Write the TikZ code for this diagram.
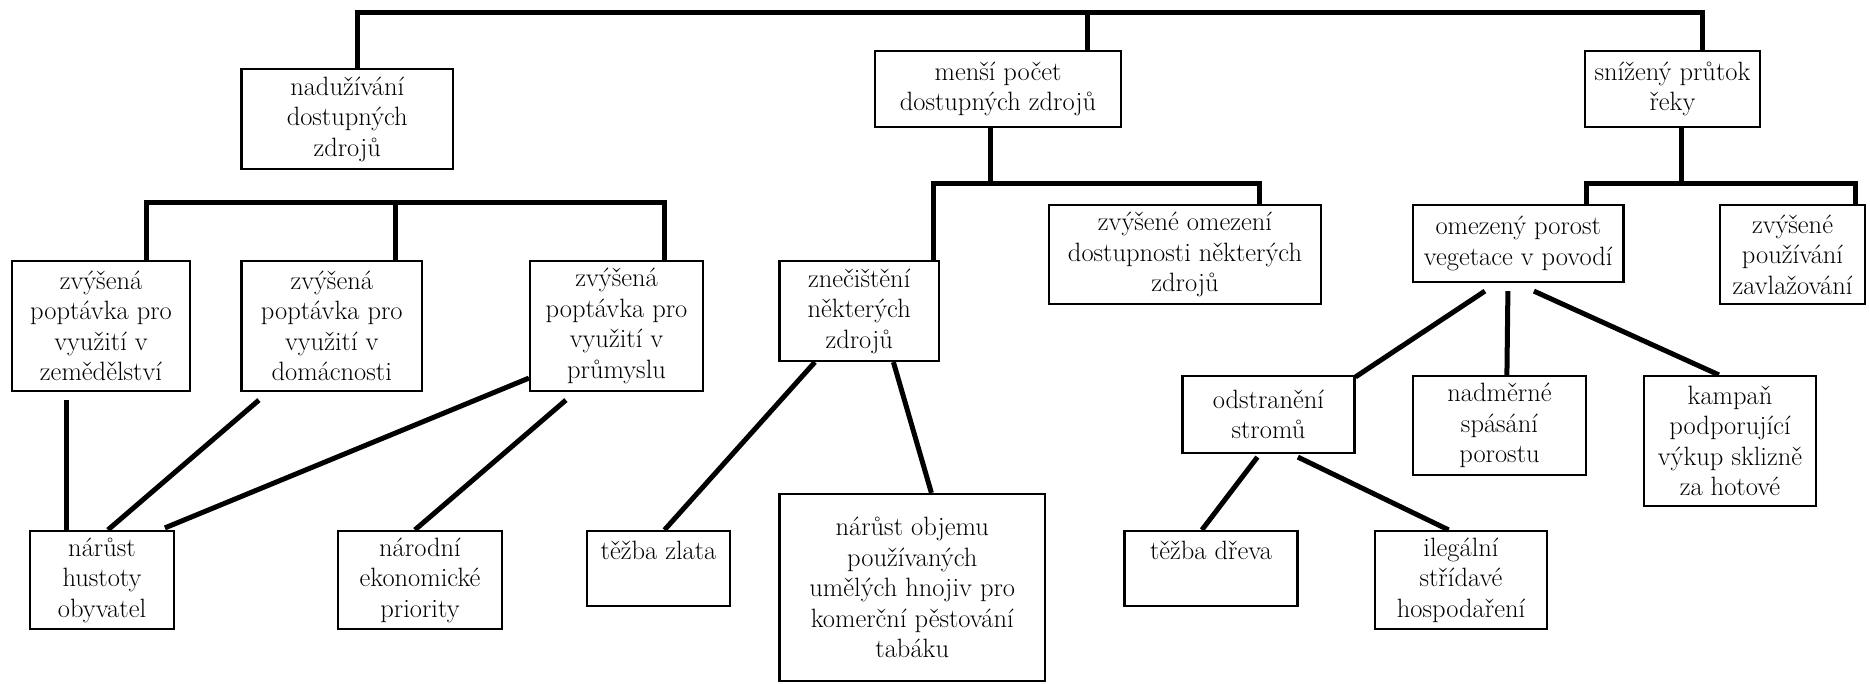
\documentclass[tikz,border=0pt]{standalone}
\usepackage{fontspec}
\setmainfont{Latin Modern Roman}
\usetikzlibrary{calc}
\begin{document}
\begin{tikzpicture}[x=1pt,y=-1pt,
  box/.style={draw,line width=2.2pt,inner sep=0pt,align=center,
    font=\fontsize{26.5}{30.5}\selectfont},
  topline/.style={text height=28pt,text depth=47pt},
  conn/.style={line width=5pt,line cap=butt,line join=miter}]
\fill[white] (0,0) rectangle (1870,683);
\useasboundingbox (0,0) rectangle (1870,683);

% first level
\node[box,minimum width=211.5,minimum height=100] (nad) at (347.25,119) {nadužívání\\dostupných\\zdrojů};
\node[box,minimum width=246,minimum height=76] (men) at (998,89) {menší počet\\dostupných zdrojů};
\node[box,minimum width=175,minimum height=76] (sni) at (1672.5,89) {snížený průtok\\řeky};

% second level
\node[box,minimum width=178,minimum height=130] (zem) at (101,326) {zvýšená\\poptávka pro\\využití v\\zemědělství};
\node[box,minimum width=180.5,minimum height=130] (dom) at (331.75,326) {zvýšená\\poptávka pro\\využití v\\domácnosti};
\node[box,minimum width=173,minimum height=130] (pru) at (616.5,326) {zvýšená\\poptávka pro\\využití v\\průmyslu};
\node[box,minimum width=159.5,minimum height=100] (zne) at (859.25,311) {znečištění\\některých\\zdrojů};
\node[box,minimum width=272,minimum height=99] (ome) at (1185,254.5) {zvýšené omezení\\dostupnosti některých\\zdrojů};
\node[box,minimum width=210.5,minimum height=77] (por) at (1518.25,243.5) {omezený porost\\vegetace v povodí};
\node[box,minimum width=145,minimum height=99] (zav) at (1792.5,254.5) {zvýšené\\používání\\zavlažování};

% third level
\node[box,minimum width=171.9,minimum height=77] (str) at (1268.45,414.5) {odstranění\\stromů};
\node[box,minimum width=173,minimum height=99] (nadm) at (1499.5,425.5) {nadměrné\\spásání\\porostu};
\node[box,minimum width=172,minimum height=130] (kam) at (1730,441) {kampaň\\podporující\\výkup sklizně\\za hotové};

% bottom level
\node[box,minimum width=144,minimum height=98] (hus) at (102,580) {nárůst\\hustoty\\obyvatel};
\node[box,minimum width=164,minimum height=98] (pri) at (420,580) {národní\\ekonomické\\priority};
\node[box,topline,minimum width=143] (zla) at (658.5,568.5) {těžba zlata};
\node[box,minimum width=265.5,minimum height=187] (hno) at (912.25,587.5) {nárůst objemu\\používaných\\umělých hnojiv pro\\komerční pěstování\\tabáku};
\node[box,topline,minimum width=172.9] (dre) at (1210.95,568.5) {těžba dřeva};
\node[box,minimum width=172,minimum height=98] (ile) at (1461,580) {ilegální\\střídavé\\hospodaření};

% top bracket
\coordinate (t1) at (357,12);
\coordinate (t2) at (1087,12);
\coordinate (t3) at (1702,12);
\draw[conn] (t1 |- nad.north) -- (t1) -- (t3) -- (t3 |- sni.north);
\draw[conn] (t2) -- (t2 |- men.north);

% bracket over the demand boxes
\coordinate (a1) at (146,202);
\coordinate (a2) at (395,202);
\coordinate (a3) at (664,202);
\draw[conn] (a1 |- zem.north) -- (a1) -- (a3) -- (a3 |- pru.north);
\draw[conn] (a2) -- (a2 |- dom.north);

% bracket below "menší počet"
\coordinate (m0) at (990,183);
\coordinate (m1) at (933,183);
\coordinate (m2) at (1259,183);
\draw[conn] (m0 |- men.south) -- (m0);
\draw[conn] (m1 |- zne.north) -- (m1) -- (m2) -- (m2 |- ome.north);

% bracket below "snížený průtok"
\coordinate (s0) at (1681,183);
\coordinate (s1) at (1586,183);
\coordinate (s2) at (1855,183);
\draw[conn] (s0 |- sni.south) -- (s0);
\draw[conn] (s1 |- por.north) -- (s1) -- (s2) -- (s2 |- zav.north);

% slanted links
\draw[conn] ($(zem.south west)+(56,8)$) -- ($(hus.north west)+(38,0)$);
\draw[conn] ($(dom.south west)+(18.5,8)$) -- ($(hus.north west)+(79,0)$);
\draw[conn] ($(pru.south west)+(0,-14)$) -- ($(hus.north west)+(136,-2)$);
\draw[conn] ($(pru.south west)+(37,8)$) -- ($(pri.north west)+(78,0)$);
\draw[conn] ($(zne.south west)+(36.5,0)$) -- ($(zla.north west)+(78.6,0)$);
\draw[conn] ($(zne.south west)+(115,0)$) -- ($(hno.north west)+(153,0)$);
\draw[conn] ($(por.south west)+(73,8)$) -- ($(str.north east)+(0,2)$);
\draw[conn] ($(por.south west)+(96,8)$) -- ($(nadm.north west)+(95,0)$);
\draw[conn] ($(por.south west)+(122,8)$) -- ($(kam.north west)+(76,0)$);
\draw[conn] ($(str.south west)+(76,3)$) -- ($(dre.north west)+(78.5,0)$);
\draw[conn] ($(str.south west)+(116.5,3)$) -- ($(ile.north west)+(74.7,0)$);
\end{tikzpicture}
\end{document}
